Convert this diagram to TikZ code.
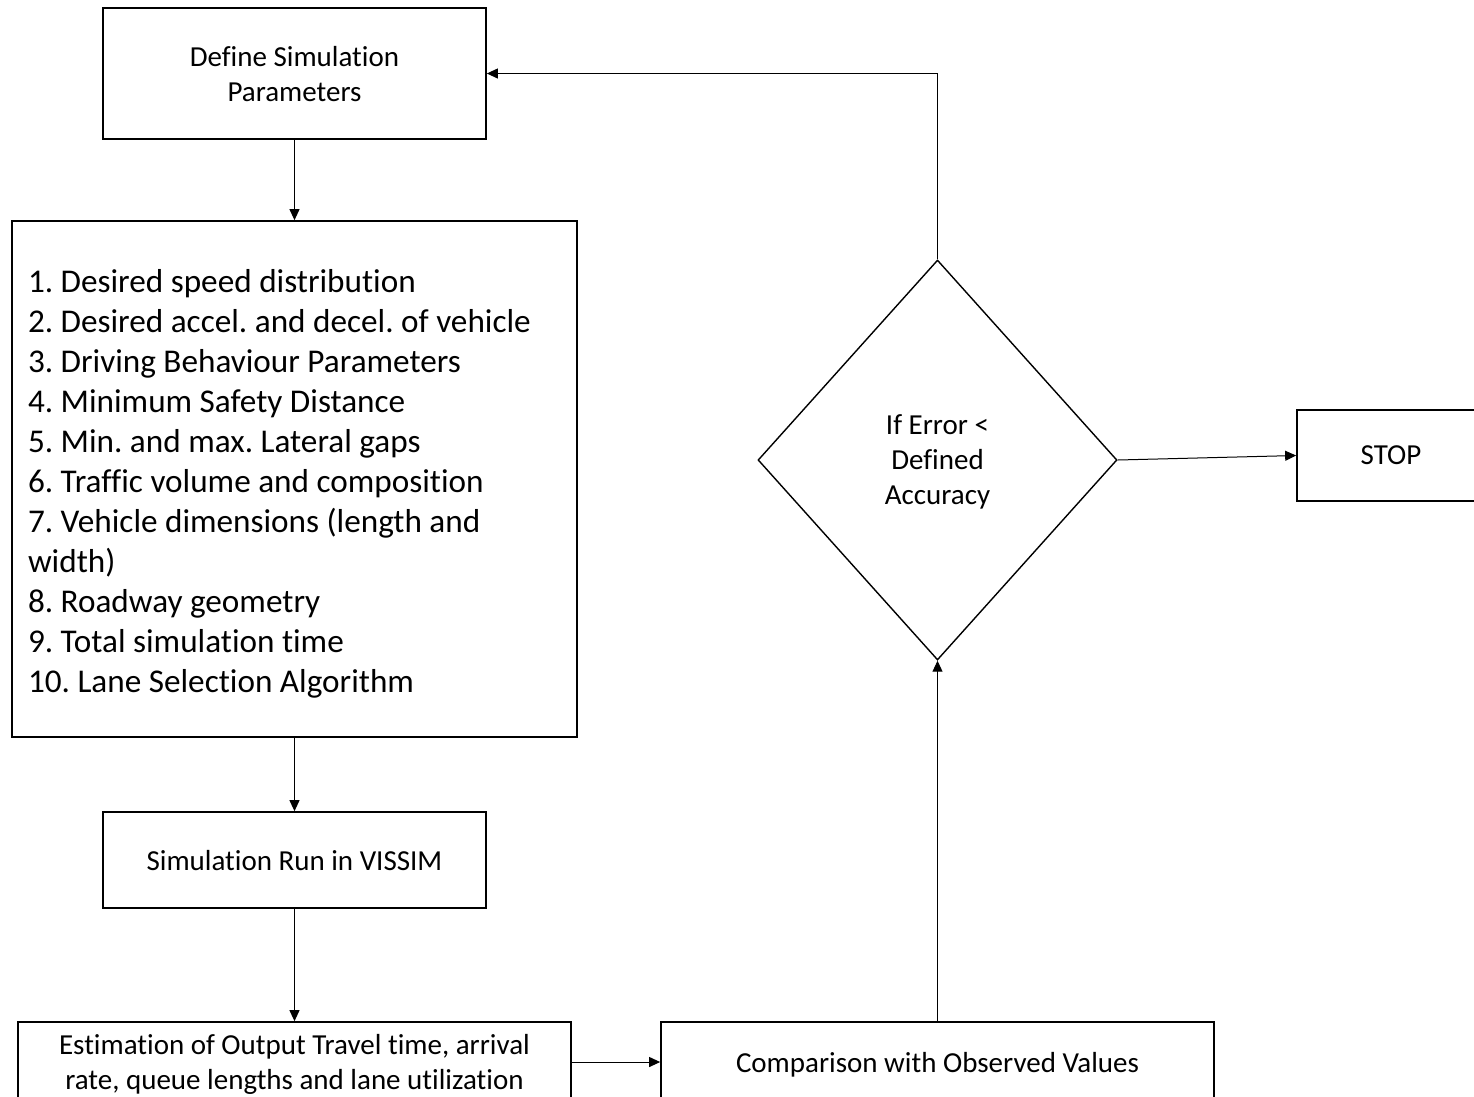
\documentclass[tikz,border=0pt]{standalone}
\usepackage{fontspec}
\setmainfont{Carlito}[Ligatures=NoCommon]
\usetikzlibrary{shapes.geometric,arrows.meta}
\newcommand{\smallfs}{\fontsize{29}{35}\selectfont\frenchspacing}
\newcommand{\bigfs}{\fontsize{33.2}{40}\selectfont\frenchspacing}
\begin{document}
\begin{tikzpicture}[x=1pt,y=-1pt,
  framestyle/.style={draw=black,line width=1.7pt,rectangle,inner sep=0pt},
  boxstyle/.style={framestyle,align=center,text depth=0pt,font=\smallfs},
  liststyle/.style={framestyle,inner xsep=16pt,align=flush left,font=\bigfs},
  decstyle/.style={draw=black,line width=1.4pt,diamond,inner sep=0pt,aspect=0.8975,minimum width=359pt,minimum height=400pt,align=center,text depth=0pt,font=\smallfs},
  conn/.style={draw=black,line width=1pt,-{Triangle[length=11pt,width=10pt]}}]
\useasboundingbox (0,0) rectangle (1474,1096);
\clip (0,0) rectangle (1474,1096);
\node[boxstyle,minimum width=383pt,minimum height=131pt] (def) at (294.5,73.5) {Define Simulation\\Parameters};
\node[liststyle,minimum width=565pt,minimum height=516pt,text width=533pt] (list) at (294.5,479) {\rule{0pt}{33pt}1. Desired speed distribution\\
2. Desired accel. and decel. of vehicle\\
3. Driving Behaviour Parameters\\
4. Minimum Safety Distance\\
5. Min. and max. Lateral gaps\\
6. Traffic volume and composition\\
7. Vehicle dimensions (length and\\
width)\\
8. Roadway geometry\\
9. Total simulation time\\
10. Lane Selection Algorithm};
\node[boxstyle,minimum width=383pt,minimum height=96pt] (run) at (294.5,860) {Simulation Run in VISSIM};
\node[boxstyle,minimum width=553pt,minimum height=80pt] (est) at (294.5,1062) {Estimation of Output Travel time, arrival\\rate, queue lengths and lane utilization};
\node[boxstyle,minimum width=553pt,minimum height=80pt] (cmp) at (937.5,1062) {Comparison with Observed Values};
\node[decstyle] (dec) at (937.5,460) {If Error <\\Defined\\Accuracy};
\node[boxstyle,minimum width=188pt,minimum height=91pt] (stop) at (1391,455.5) {STOP};
\draw[conn] (def) -- (list);
\draw[conn] (list) -- (run);
\draw[conn] (run) -- (est);
\draw[conn] (est) -- (cmp);
\draw[conn] (cmp) -- (dec);
\draw[conn] (dec.east) -- (stop.west);
\draw[conn] (dec.north) |- (def.east);
\end{tikzpicture}
\end{document}
